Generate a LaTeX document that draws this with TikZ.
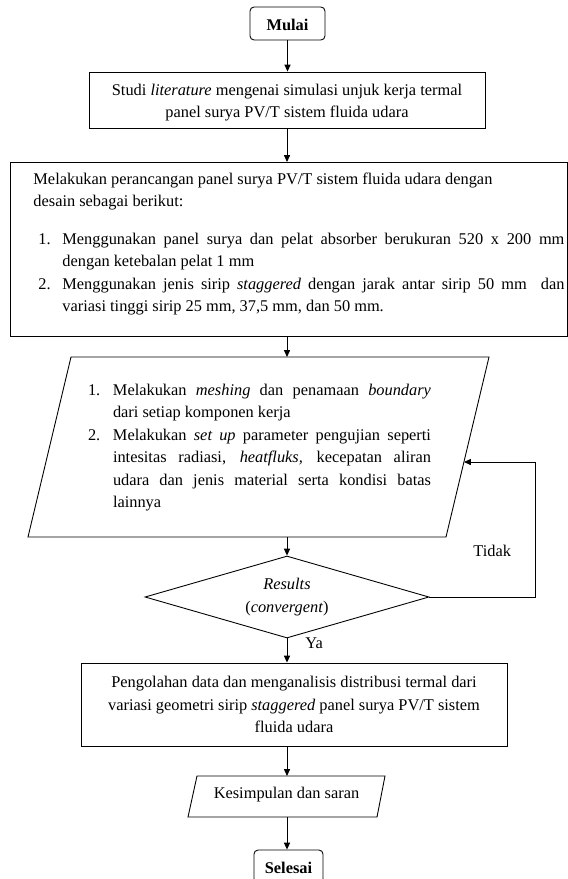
\documentclass[tikz,border=0pt]{standalone}
\usepackage{fontspec}
\setmainfont{Liberation Serif}
\usetikzlibrary{arrows.meta,shapes.geometric}
\newlength\pxu
\setlength\pxu{0.7333pt}
\tolerance=9999
\hbadness=10000
\hyphenpenalty=10000
\newcommand\itemlabel[2]{\leavevmode\llap{\makebox[#1][l]{#2}}}
\newcommand\lowered[2]{\raisebox{-#1}[\height][\depth]{\begin{tabular}{@{}c@{}}#2\end{tabular}}}
\tikzset{
  every picture/.style={line width=0.65pt},
  base/.style={draw, inner sep=0pt, font=\fontsize{12}{16.5}\selectfont},
  terminal/.style={base, rounded corners=3pt, minimum width=75*\pxu, minimum height=33*\pxu, font=\fontsize{12}{16.5}\selectfont\bfseries},
  procbox/.style={base, align=center},
  decision/.style={base, diamond, aspect=3.46, minimum width=284*\pxu, minimum height=82*\pxu, align=center},
  txt/.style={inner sep=0pt, font=\fontsize{12}{16.5}\selectfont},
  arr/.style={-{Triangle[length=5pt,width=4.4pt]}},
  lbl/.style={inner sep=0pt, font=\fontsize{12}{16.5}\selectfont},
}
\begin{document}
\begin{tikzpicture}[x=0.7333pt,y=-0.7333pt]
\useasboundingbox (0,0) rectangle (568,879);

% Start
\node[terminal] (mulai) at (287.5,23.5) {\raisebox{-1\pxu}[\height][\depth]{Mulai}};

% Literature study
\node[procbox, minimum width=396*\pxu, minimum height=56*\pxu] (studi) at (287,100)
  {\lowered{2\pxu}{Studi \textit{literature} mengenai simulasi unjuk kerja termal\\panel surya PV/T sistem fluida udara}};

% Design box
\node[base, minimum width=557*\pxu, minimum height=174*\pxu, anchor=north west] (design) at (10,162)
{\hspace*{23\pxu}\parbox[c]{531\pxu}{\fontsize{12}{16.5}\selectfont\parindent=0pt
Melakukan perancangan panel surya PV/T sistem fluida udara dengan\newline desain sebagai berikut:\par
\vspace{11pt}%
\leftskip=29\pxu
\itemlabel{24\pxu}{1.}Menggunakan panel surya dan pelat absorber berukuran 520 x 200 mm\linebreak dengan ketebalan pelat 1 mm\par
\itemlabel{24\pxu}{2.}Menggunakan jenis sirip \textit{staggered} dengan jarak antar sirip 50 mm\ \ dan\linebreak variasi tinggi sirip 25 mm, 37,5 mm, dan 50 mm.\par
\vspace*{11\pxu}}\hspace*{3\pxu}};

% Method parallelogram
\coordinate (mtl) at (71,357);
\coordinate (mtr) at (489,357);
\coordinate (mbr) at (446,537);
\coordinate (mbl) at (28,537);
\draw (mtl) -- (mtr) -- (mbr) -- (mbl) -- cycle;
\node[txt] (methtext) at (259.5,447.5) {\parbox{343\pxu}{\fontsize{12}{16.5}\selectfont\parindent=0pt\leftskip=25\pxu
\itemlabel{25\pxu}{1.}Melakukan \textit{meshing} dan penamaan \textit{boundary}\linebreak dari setiap komponen kerja\par
\itemlabel{25\pxu}{2.}Melakukan \textit{set up} parameter pengujian seperti\linebreak intesitas radiasi, \textit{heatfluks,} kecepatan aliran\linebreak udara dan jenis material serta kondisi batas\linebreak lainnya\par}};

% Decision
\node[decision] (dec) at (287,597) {\textit{Results}\\(\textit{convergent})};

% Processing
\node[procbox, minimum width=426*\pxu, minimum height=83*\pxu] (peng) at (294,704.5)
  {Pengolahan data dan menganalisis distribusi termal dari\\variasi geometri sirip \textit{staggered} panel surya PV/T sistem\\fluida udara};

% Conclusion parallelogram
\coordinate (ktl) at (197,776);
\coordinate (ktr) at (385,776);
\coordinate (kbr) at (377,817);
\coordinate (kbl) at (188,817);
\draw (ktl) -- (ktr) -- (kbr) -- (kbl) -- cycle;
\node[txt] (kes) at (286.5,795) {Kesimpulan dan saran};

% End
\node[terminal, minimum width=69*\pxu] (selesai) at (288.5,866.5) {\raisebox{-1\pxu}[\height][\depth]{Selesai}};

% Connectors
\coordinate (fb) at (464,462);
\coordinate (loop) at (535,462);
\draw[arr] (mulai.south) -- (mulai.south |- studi.north);
\draw[arr] (studi.south) -- (studi.south |- design.north);
\draw[arr] (studi.south |- design.south) -- (studi.south |- mtl);
\draw[arr] (dec.north |- mbl) -- (dec.north);
\draw[arr] (dec.east) -| (loop) -- (fb);
\draw[arr] (dec.south) -- (dec.south |- peng.north);
\draw[arr] (dec.south |- peng.south) -- (dec.south |- ktl);
\draw[arr] (dec.south |- kbl) -- (dec.south |- selesai.north);

% Labels
\node[lbl, anchor=base west] (tidak) at (473,556) {Tidak};
\node[lbl, anchor=base west] (ya) at (305,648) {Ya};
\end{tikzpicture}
\end{document}
